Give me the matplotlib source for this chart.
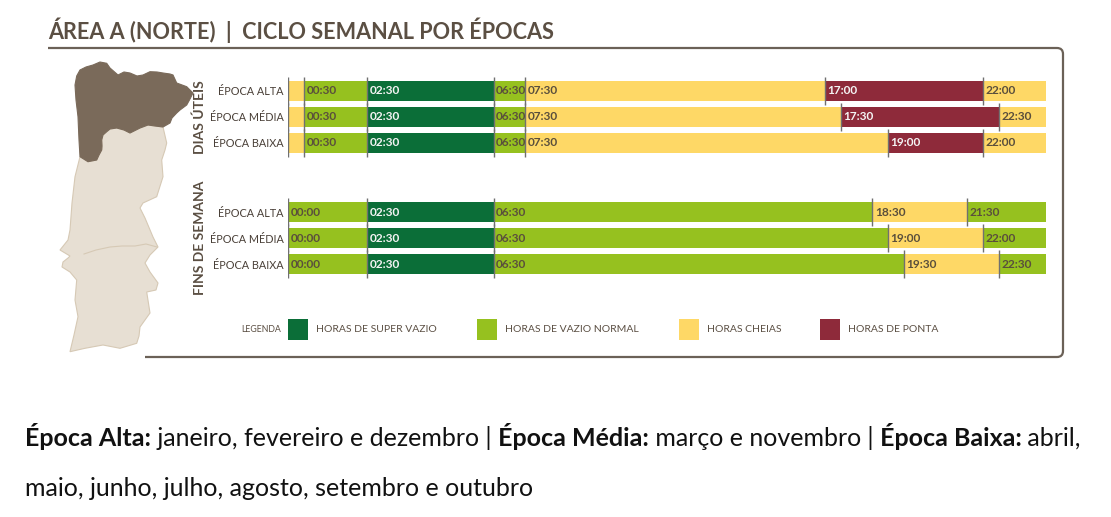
import matplotlib
matplotlib.use('Agg')
import matplotlib.pyplot as plt
from matplotlib.patches import Rectangle, Polygon, PathPatch
from matplotlib.path import Path

# ---- dados ----
epocas = ['ÉPOCA ALTA', 'ÉPOCA MÉDIA', 'ÉPOCA BAIXA']

# limites (em horas) dos períodos - dias úteis
uteis_limites = [
    [0, 0.5, 2.5, 6.5, 7.5, 17.0, 22.0, 24],
    [0, 0.5, 2.5, 6.5, 7.5, 17.5, 22.5, 24],
    [0, 0.5, 2.5, 6.5, 7.5, 19.0, 22.0, 24],
]
uteis_tipos = ['cheias', 'vazio', 'super', 'vazio', 'cheias', 'ponta', 'cheias']

# fins de semana
fds_limites = [
    [0, 2.5, 6.5, 18.5, 21.5, 24],
    [0, 2.5, 6.5, 19.0, 22.0, 24],
    [0, 2.5, 6.5, 19.5, 22.5, 24],
]
fds_tipos = ['vazio', 'super', 'vazio', 'cheias', 'vazio']

legenda_tipos = ['super', 'vazio', 'cheias', 'ponta']
legenda_nomes = ['HORAS DE SUPER VAZIO', 'HORAS DE VAZIO NORMAL', 'HORAS CHEIAS', 'HORAS DE PONTA']

titulo = 'ÁREA A (NORTE)  |  CICLO SEMANAL POR ÉPOCAS'

# texto de baixo: (texto, negrito)
rodape_linha1 = [('Época Alta:', True), (' janeiro, fevereiro e dezembro', False), (' |', False),
                 (' Época Média:', True), (' março e novembro', False), (' |', False),
                 (' Época Baixa:', True), (' abril,', False)]
rodape_linha2 = 'maio, junho, julho, agosto, setembro e outubro'

# contorno (aproximado) do mapa de Portugal, em pixels
norte_x = [76.7, 80, 86, 93, 100, 106.7, 110, 118, 124, 130, 137, 143, 150, 157, 163, 170, 173,
           176.7, 186.7, 193, 190, 186.7, 180, 176.7, 172, 170, 163, 155, 148, 140, 130, 124,
           116.7, 110, 106.7, 103, 101.7, 102, 101.7, 99, 96.7, 88, 80, 79, 78, 76, 75]
norte_y = [76, 70, 67, 65, 62, 63.3, 68, 75, 72, 73, 76, 75, 71.7, 72, 73, 74, 75,
           83, 86.7, 93, 99, 105, 110, 113, 118, 123, 127, 126, 125, 128, 133, 130,
           128, 129, 131.7, 135, 140, 146, 150, 155, 160, 161.7, 156.7, 140, 116.7, 100, 85]
resto_x = [80, 88, 96.7, 99, 101.7, 102, 101.7, 103, 106.7, 110, 116.7, 124, 130, 140, 148,
           155, 163, 166.7, 165, 161.7, 163, 156.7, 143, 140, 145, 153, 158, 150, 145, 150,
           158, 156, 146.7, 150, 140, 139, 136.7, 120, 103, 85, 70, 74, 78, 75, 76.7, 70,
           62, 63, 68, 70, 60, 68, 70, 72, 75]
resto_y = [156.7, 161.7, 160, 155, 150, 146, 140, 135, 131.7, 129, 128, 130, 133, 128, 125,
           126, 127, 143, 150, 160, 176.7, 196.7, 203, 208, 218, 237, 247, 255, 263, 272,
           283, 290, 292, 313, 327, 336, 343.3, 348.3, 345, 348.3, 351.7, 335, 316.7, 300, 280, 272,
           267, 262, 258, 256, 250, 240, 230, 203, 176.7]
fronteira_x = [84, 96, 110, 122, 135, 146, 157]
fronteira_y = [254, 250, 247, 246, 246, 244, 247]

cores = {'super': '#0b6e38', 'vazio': '#96c11f', 'cheias': '#fed866', 'ponta': '#8e2a3a'}
cor_texto = '#5b4f43'
fonte = ['Lato', 'DejaVu Sans']


def hhmm(h):
    return '%02d:%02d' % (int(h), round((h - int(h)) * 60))


def desenha_grupo(ax, ys, limites, tipos, rotula_zero):
    for y, lim in zip(ys, limites):
        for i, tipo in enumerate(tipos):
            ax.barh(y, lim[i + 1] - lim[i], left=lim[i], height=0.77,
                    color=cores[tipo], linewidth=0)
        ax.vlines(lim[:-1], y - 0.54, y + 0.54, color='#707070', lw=1)
        ini = 0 if rotula_zero else 1
        for i in range(ini, len(tipos)):
            cor = '#f4f4f4' if tipos[i] in ('super', 'ponta') else '#5a4f3c'
            ax.annotate(hhmm(lim[i]), (lim[i], y), xytext=(2.5, 0), textcoords='offset pixels',
                        va='center', ha='left', fontsize=8.6, fontweight='bold',
                        color=cor, family=fonte)


fig = plt.figure(figsize=(11.11, 5.17), dpi=100)

# eixo de fundo em pixels (moldura, mapa, textos)
bg = fig.add_axes([0, 0, 1, 1])
bg.set_xlim(0, 1111)
bg.set_ylim(517, 0)
bg.axis('off')

bg.text(48, 39, titulo, fontsize=15.6, fontweight='bold', color=cor_texto,
        family=fonte, va='baseline', ha='left')

M, L, C = Path.MOVETO, Path.LINETO, Path.CURVE3
moldura = Path([(145, 357), (1057, 357), (1063, 357), (1063, 351), (1063, 54),
                (1063, 48), (1057, 48), (48, 48)], [M, L, C, C, L, C, C, L])
bg.add_patch(PathPatch(moldura, fill=False, edgecolor='#6b6157', lw=1.6))

bg.add_patch(Polygon(list(zip(resto_x, resto_y)), closed=True, facecolor='#e7dfd3',
                     edgecolor='#d6c9b5', lw=0.8))
bg.add_patch(Polygon(list(zip(norte_x, norte_y)), closed=True, facecolor='#7a6a5a',
                     edgecolor='#7a6a5a', lw=0.8))
bg.plot(fronteira_x, fronteira_y, color='#d6c9b5', lw=0.8)

bg.text(200, 117, 'DIAS ÚTEIS', rotation=90, ha='center', va='center', fontsize=10,
        fontweight='bold', color=cor_texto, family=fonte)
bg.text(200, 238, 'FINS DE SEMANA', rotation=90, ha='center', va='center', fontsize=10,
        fontweight='bold', color=cor_texto, family=fonte)

# legenda
bg.text(241, 330, 'LEGENDA', fontsize=6.3, color=cor_texto, family=fonte, va='center', ha='left')
leg_x = [288, 477, 679, 820]
for x, tipo, nome in zip(leg_x, legenda_tipos, legenda_nomes):
    bg.add_patch(Rectangle((x, 319), 20, 21, color=cores[tipo], lw=0))
    bg.text(x + 28, 330, nome, fontsize=7.5, color=cor_texto, family=fonte, va='center', ha='left')

# grafico de horarios
ax = fig.add_axes([288.5 / 1111, 1 - 290 / 517, 757.5 / 1111, 225 / 517])
ax.set_xlim(0, 24)
ax.set_ylim(7.654, -1)
ys_uteis = [0, 1, 2]
ys_fds = [4.66, 5.66, 6.66]
desenha_grupo(ax, ys_uteis, uteis_limites, uteis_tipos, False)
desenha_grupo(ax, ys_fds, fds_limites, fds_tipos, True)
ax.set_yticks(ys_uteis + ys_fds)
ax.set_yticklabels(epocas * 2, family=fonte)
ax.tick_params(axis='y', length=0, pad=3.6, labelsize=7.8, labelcolor='#4a4038')
ax.set_xticks([])
for s in ax.spines.values():
    s.set_visible(False)
ax.patch.set_alpha(0)

# rodape com partes em negrito
renderer = fig.canvas.get_renderer()
x = 25
for txt, neg in rodape_linha1:
    t = bg.text(x, 446, txt, fontsize=18, fontweight='bold' if neg else 'normal',
                color='#111111', family=fonte, va='baseline', ha='left')
    x += t.get_window_extent(renderer).width
bg.text(25, 496, rodape_linha2, fontsize=18, color='#111111', family=fonte,
        va='baseline', ha='left')

fig.savefig('out.png', dpi=100)
